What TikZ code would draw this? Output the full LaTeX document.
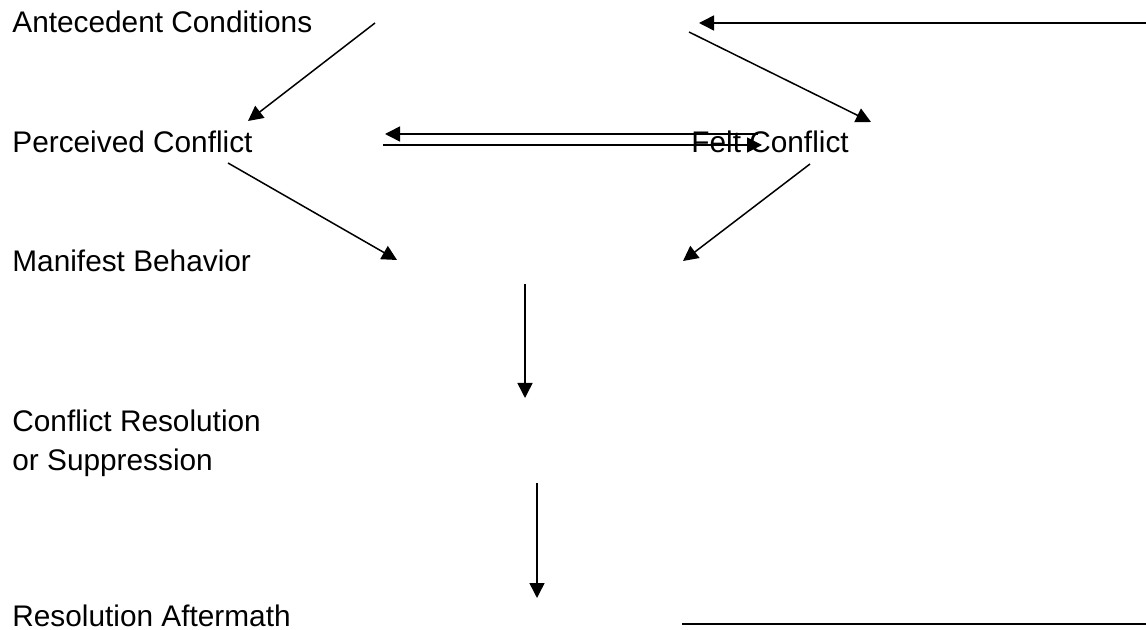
\documentclass[tikz,border=0pt]{standalone}
\usepackage{fontspec}
\setmainfont{Liberation Sans}
\usetikzlibrary{arrows.meta}
\tikzstyle{arrow} = [line width=0.75pt,-{Triangle[length=7.5pt,width=7.5pt]}]
\tikzstyle{rulestroke} = [line width=0.75pt]
\tikzstyle{stage} = [anchor=base west, inner sep=0pt, font=\fontsize{14.9pt}{19.5pt}\selectfont, align=left]

\begin{document}
\begin{tikzpicture}[x=0.5pt,y=-0.5pt]
		\useasboundingbox (0,0) rectangle (1146,630);
		\node (ante) [stage] at (12,33) {Antecedent Conditions};
		\node (perc) [stage] at (12,153) {Perceived Conflict};
		\node (felt) [stage] at (691,153) {Felt Conflict};
		\node (mani) [stage] at (12,272) {Manifest Behavior};
		% base of a two-line node is its last line
		\node (cres) [stage] at (12,471) {Conflict Resolution\\or Suppression};
		\node (aftm) [stage] at (12,626) {Resolution Aftermath};
		% free ends of the connectors
		\coordinate (anteL) at (375,23);
		\coordinate (percT) at (248,121);
		\coordinate (anteR) at (689,32);
		\coordinate (feltT) at (871,122);
		\coordinate (backR) at (1146,23);
		\coordinate (backL) at (699,23);
		\coordinate (upR) at (758,134);
		\coordinate (upL) at (385,134);
		\coordinate (loL) at (383,145);
		\coordinate (loR) at (762,145);
		\coordinate (percB) at (228,163);
		\coordinate (maniL) at (397,260);
		\coordinate (feltB) at (810,164);
		\coordinate (maniR) at (683,261);
		\coordinate (maniB) at (525,284);
		\coordinate (cresT) at (525,398);
		\coordinate (cresB) at (537,483);
		\coordinate (aftmT) at (537,598);
		\coordinate (aftmL) at (682,624);
		\coordinate (aftmR) at (1146,624);
		% connectors
		\draw [arrow] (anteL) -- (percT);
		\draw [arrow] (anteR) -- (feltT);
		\draw [arrow] (backR) -- (backL);
		\draw [arrow] (upR) -- (upL);
		\draw [arrow] (loL) -- (loR);
		\draw [arrow] (percB) -- (maniL);
		\draw [arrow] (feltB) -- (maniR);
		\draw [arrow] (maniB) -- (cresT);
		\draw [arrow] (cresB) -- (aftmT);
		\draw [rulestroke] (aftmL) -- (aftmR);
	\end{tikzpicture}
\end{document}
